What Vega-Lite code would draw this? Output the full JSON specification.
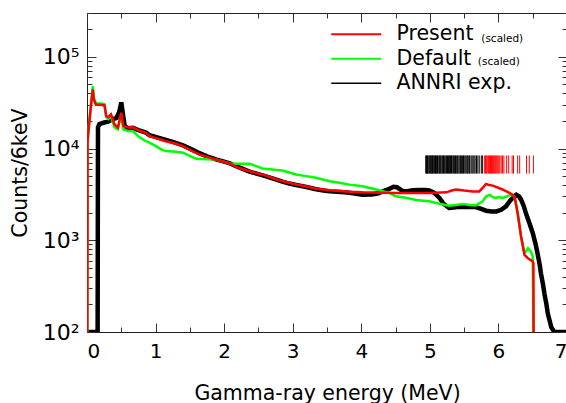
{
  "$schema": "https://vega.github.io/schema/vega-lite/v6.json",
  "width": 480,
  "height": 319,
  "autosize": "none",
  "padding": {"left": 87, "top": 13, "right": 0, "bottom": 71},
  "config": {
    "font": "DejaVu Sans",
    "view": {"stroke": "#222222", "strokeWidth": 1},
    "axis": {
      "domain": false,
      "grid": false,
      "tickColor": "#333333",
      "tickWidth": 1,
      "labelColor": "#000000",
      "labelFont": "DejaVu Sans",
      "labelFontSize": 20,
      "titleColor": "#000000",
      "titleFont": "DejaVu Sans",
      "titleFontSize": 20.5,
      "titleFontWeight": "normal"
    },
    "legend": {"labelFont": "DejaVu Sans"}
  },
  "datasets": {
    "annri": [
      {"E": 0, "N": 100}, {"E": 0.155, "N": 100}, {"E": 0.16, "N": 17000}, {"E": 0.18, "N": 18500},
      {"E": 0.25, "N": 19200}, {"E": 0.31, "N": 19600}, {"E": 0.37, "N": 20800}, {"E": 0.43, "N": 21500},
      {"E": 0.47, "N": 25000}, {"E": 0.5, "N": 31800}, {"E": 0.53, "N": 22000}, {"E": 0.55, "N": 17600},
      {"E": 0.6, "N": 16600}, {"E": 0.67, "N": 16800}, {"E": 0.75, "N": 15900}, {"E": 0.86, "N": 14900},
      {"E": 0.91, "N": 14000}, {"E": 1.0, "N": 13400}, {"E": 1.15, "N": 12400}, {"E": 1.25, "N": 11800},
      {"E": 1.4, "N": 10800}, {"E": 1.55, "N": 9600}, {"E": 1.64, "N": 8900}, {"E": 1.75, "N": 8200},
      {"E": 1.88, "N": 7600}, {"E": 2.0, "N": 7200}, {"E": 2.08, "N": 6900}, {"E": 2.2, "N": 6300},
      {"E": 2.37, "N": 5600}, {"E": 2.5, "N": 5250}, {"E": 2.6, "N": 5000}, {"E": 2.75, "N": 4600},
      {"E": 2.85, "N": 4350}, {"E": 2.95, "N": 4150}, {"E": 3.05, "N": 4000}, {"E": 3.2, "N": 3800},
      {"E": 3.34, "N": 3600}, {"E": 3.45, "N": 3480}, {"E": 3.54, "N": 3410}, {"E": 3.7, "N": 3350},
      {"E": 3.83, "N": 3300}, {"E": 3.95, "N": 3200}, {"E": 4.02, "N": 3140}, {"E": 4.15, "N": 3150},
      {"E": 4.25, "N": 3250}, {"E": 4.35, "N": 3500}, {"E": 4.41, "N": 3630}, {"E": 4.47, "N": 3820},
      {"E": 4.52, "N": 3780}, {"E": 4.6, "N": 3450}, {"E": 4.65, "N": 3410}, {"E": 4.75, "N": 3500},
      {"E": 4.85, "N": 3520}, {"E": 4.93, "N": 3530}, {"E": 4.99, "N": 3500}, {"E": 5.06, "N": 3300},
      {"E": 5.14, "N": 2890}, {"E": 5.2, "N": 2500}, {"E": 5.28, "N": 2250}, {"E": 5.35, "N": 2270},
      {"E": 5.42, "N": 2320}, {"E": 5.48, "N": 2300}, {"E": 5.58, "N": 2300}, {"E": 5.67, "N": 2300},
      {"E": 5.75, "N": 2200}, {"E": 5.82, "N": 2100}, {"E": 5.9, "N": 2060}, {"E": 5.97, "N": 2060},
      {"E": 6.04, "N": 2150}, {"E": 6.11, "N": 2340}, {"E": 6.17, "N": 2700}, {"E": 6.23, "N": 3010},
      {"E": 6.26, "N": 3140}, {"E": 6.3, "N": 3000}, {"E": 6.33, "N": 2770}, {"E": 6.37, "N": 2350},
      {"E": 6.4, "N": 1980}, {"E": 6.45, "N": 1550}, {"E": 6.5, "N": 1200}, {"E": 6.54, "N": 920},
      {"E": 6.57, "N": 722}, {"E": 6.6, "N": 550}, {"E": 6.62, "N": 436}, {"E": 6.65, "N": 330},
      {"E": 6.67, "N": 264}, {"E": 6.7, "N": 200}, {"E": 6.72, "N": 159}, {"E": 6.75, "N": 130},
      {"E": 6.77, "N": 113}, {"E": 6.815, "N": 100}, {"E": 7.0, "N": 100}
    ],
    "present": [
      {"E": 0.005, "N": 100}, {"E": 0.008, "N": 12000}, {"E": 0.03, "N": 18000}, {"E": 0.06, "N": 30000},
      {"E": 0.085, "N": 44000}, {"E": 0.1, "N": 34000}, {"E": 0.13, "N": 30000}, {"E": 0.2, "N": 30000},
      {"E": 0.255, "N": 29500}, {"E": 0.28, "N": 22600}, {"E": 0.31, "N": 22000}, {"E": 0.35, "N": 23600},
      {"E": 0.4, "N": 18400}, {"E": 0.45, "N": 16900}, {"E": 0.5, "N": 24500}, {"E": 0.53, "N": 17600},
      {"E": 0.6, "N": 16900}, {"E": 0.67, "N": 17000}, {"E": 0.75, "N": 15800}, {"E": 0.86, "N": 14800},
      {"E": 0.91, "N": 13700}, {"E": 1.0, "N": 13000}, {"E": 1.15, "N": 12000}, {"E": 1.28, "N": 11400},
      {"E": 1.4, "N": 10600}, {"E": 1.52, "N": 9500}, {"E": 1.64, "N": 8600}, {"E": 1.75, "N": 8100},
      {"E": 1.88, "N": 7600}, {"E": 2.08, "N": 6870}, {"E": 2.2, "N": 6200}, {"E": 2.37, "N": 5650},
      {"E": 2.6, "N": 5100}, {"E": 2.75, "N": 4650}, {"E": 2.85, "N": 4390}, {"E": 3.05, "N": 4050},
      {"E": 3.2, "N": 3850}, {"E": 3.34, "N": 3650}, {"E": 3.54, "N": 3500}, {"E": 3.83, "N": 3380},
      {"E": 4.02, "N": 3330}, {"E": 4.3, "N": 3300}, {"E": 4.5, "N": 3280}, {"E": 4.8, "N": 3280},
      {"E": 5.0, "N": 3280}, {"E": 5.24, "N": 3330}, {"E": 5.32, "N": 3480}, {"E": 5.38, "N": 3570},
      {"E": 5.5, "N": 3480}, {"E": 5.62, "N": 3410}, {"E": 5.72, "N": 3410}, {"E": 5.78, "N": 3800},
      {"E": 5.82, "N": 4110}, {"E": 5.86, "N": 4000}, {"E": 5.92, "N": 3940}, {"E": 6.05, "N": 3600},
      {"E": 6.16, "N": 3280}, {"E": 6.21, "N": 3120}, {"E": 6.24, "N": 2900}, {"E": 6.28, "N": 1980},
      {"E": 6.33, "N": 1100}, {"E": 6.38, "N": 692}, {"E": 6.43, "N": 637}, {"E": 6.47, "N": 610},
      {"E": 6.5, "N": 585}, {"E": 6.51, "N": 560}, {"E": 6.513, "N": 100}
    ],
    "default": [
      {"E": 0.005, "N": 100}, {"E": 0.008, "N": 12000}, {"E": 0.03, "N": 19000}, {"E": 0.06, "N": 32000},
      {"E": 0.085, "N": 48000}, {"E": 0.1, "N": 36000}, {"E": 0.13, "N": 31000}, {"E": 0.2, "N": 31000},
      {"E": 0.255, "N": 30500}, {"E": 0.28, "N": 22000}, {"E": 0.31, "N": 21000}, {"E": 0.35, "N": 22600},
      {"E": 0.4, "N": 17000}, {"E": 0.45, "N": 16200}, {"E": 0.5, "N": 23000}, {"E": 0.53, "N": 16200},
      {"E": 0.6, "N": 15500}, {"E": 0.67, "N": 15500}, {"E": 0.75, "N": 13500}, {"E": 0.86, "N": 12000},
      {"E": 0.91, "N": 11600}, {"E": 1.0, "N": 10700}, {"E": 1.1, "N": 9600}, {"E": 1.16, "N": 9370},
      {"E": 1.3, "N": 9200}, {"E": 1.4, "N": 9000}, {"E": 1.5, "N": 8300}, {"E": 1.59, "N": 7730},
      {"E": 1.75, "N": 7650}, {"E": 1.88, "N": 7600}, {"E": 2.08, "N": 6870}, {"E": 2.2, "N": 6820},
      {"E": 2.37, "N": 6810}, {"E": 2.45, "N": 6500}, {"E": 2.56, "N": 6050}, {"E": 2.7, "N": 5900},
      {"E": 2.85, "N": 5750}, {"E": 3.05, "N": 5200}, {"E": 3.2, "N": 5000}, {"E": 3.34, "N": 4790},
      {"E": 3.54, "N": 4390}, {"E": 3.7, "N": 4200}, {"E": 3.83, "N": 4040}, {"E": 4.02, "N": 3880},
      {"E": 4.2, "N": 3600}, {"E": 4.41, "N": 3280}, {"E": 4.5, "N": 3010}, {"E": 4.65, "N": 2900},
      {"E": 4.8, "N": 2750}, {"E": 4.99, "N": 2660}, {"E": 5.14, "N": 2500}, {"E": 5.28, "N": 2380},
      {"E": 5.38, "N": 2420}, {"E": 5.48, "N": 2490}, {"E": 5.58, "N": 2420}, {"E": 5.67, "N": 2400},
      {"E": 5.77, "N": 2660}, {"E": 5.82, "N": 3000}, {"E": 5.87, "N": 3140}, {"E": 5.92, "N": 2950},
      {"E": 5.96, "N": 2890}, {"E": 6.01, "N": 2950}, {"E": 6.06, "N": 2890}, {"E": 6.12, "N": 3000},
      {"E": 6.18, "N": 3140}, {"E": 6.23, "N": 3010}, {"E": 6.28, "N": 1980}, {"E": 6.33, "N": 1100},
      {"E": 6.38, "N": 720}, {"E": 6.43, "N": 819}, {"E": 6.475, "N": 752}, {"E": 6.5, "N": 663},
      {"E": 6.51, "N": 100}
    ],
    "levelsExp": [
      {"E": 4.94}, {"E": 4.952}, {"E": 4.96}, {"E": 4.968}, {"E": 4.975}, {"E": 4.99}, {"E": 5.0},
      {"E": 5.012}, {"E": 5.02}, {"E": 5.031}, {"E": 5.04}, {"E": 5.048}, {"E": 5.06}, {"E": 5.07},
      {"E": 5.083}, {"E": 5.09}, {"E": 5.1}, {"E": 5.112}, {"E": 5.12}, {"E": 5.135}, {"E": 5.145},
      {"E": 5.152}, {"E": 5.165}, {"E": 5.18}, {"E": 5.19}, {"E": 5.2}, {"E": 5.21}, {"E": 5.222},
      {"E": 5.235}, {"E": 5.245}, {"E": 5.258}, {"E": 5.27}, {"E": 5.28}, {"E": 5.29}, {"E": 5.3},
      {"E": 5.315}, {"E": 5.325}, {"E": 5.34}, {"E": 5.35}, {"E": 5.362}, {"E": 5.375}, {"E": 5.385},
      {"E": 5.4}, {"E": 5.41}, {"E": 5.425}, {"E": 5.44}, {"E": 5.45}, {"E": 5.46}, {"E": 5.478},
      {"E": 5.49}, {"E": 5.5}, {"E": 5.515}, {"E": 5.53}, {"E": 5.545}, {"E": 5.555}, {"E": 5.57},
      {"E": 5.58}, {"E": 5.6}, {"E": 5.615}, {"E": 5.63}, {"E": 5.645}, {"E": 5.66}, {"E": 5.68},
      {"E": 5.7}, {"E": 5.72}, {"E": 5.75}, {"E": 5.77}
    ],
    "levelsOther": [
      {"E": 5.8}, {"E": 5.81}, {"E": 5.823}, {"E": 5.835}, {"E": 5.85}, {"E": 5.86}, {"E": 5.872},
      {"E": 5.885}, {"E": 5.9}, {"E": 5.915}, {"E": 5.93}, {"E": 5.945}, {"E": 5.96}, {"E": 5.975},
      {"E": 5.99}, {"E": 6.005}, {"E": 6.02}, {"E": 6.04}, {"E": 6.06}, {"E": 6.08}, {"E": 6.12},
      {"E": 6.15}, {"E": 6.2}, {"E": 6.22}, {"E": 6.28}, {"E": 6.31}, {"E": 6.41}, {"E": 6.45}, {"E": 6.51}
    ]
  },
  "layer": [
    {
      "data": {"name": "annri"},
      "mark": {"type": "line", "strokeWidth": 4.5, "clip": true, "interpolate": "linear"},
      "encoding": {
        "x": {
          "field": "E", "type": "quantitative",
          "scale": {"domain": [0, 7], "nice": false, "zero": false},
          "axis": {
            "orient": "bottom",
            "values": [0, 0.5, 1, 1.5, 2, 2.5, 3, 3.5, 4, 4.5, 5, 5.5, 6, 6.5, 7],
            "labelExpr": "datum.value % 1 === 0 ? format(datum.value, 'd') : ''",
            "tickSize": {"condition": {"test": "datum.value % 1 === 0", "value": -9}, "value": -5},
            "labelPadding": 18,
            "title": "Gamma-ray energy (MeV)",
            "titlePadding": 22,
            "encode": {"labels": {"update": {"dy": {"value": 4}}}}
          }
        },
        "y": {
          "field": "N", "type": "quantitative",
          "scale": {"type": "log", "domain": [100, 300000], "nice": false},
          "axis": {
            "orient": "left",
            "values": [100, 200, 300, 400, 500, 600, 700, 800, 900, 1000, 2000, 3000, 4000, 5000, 6000, 7000, 8000, 9000, 10000, 20000, 30000, 40000, 50000, 60000, 70000, 80000, 90000, 100000, 200000, 300000],
            "labelExpr": "datum.value == 100 ? '10²' : datum.value == 1000 ? '10³' : datum.value == 10000 ? '10⁴' : datum.value == 100000 ? '10⁵' : ''",
            "labelFontSize": 22,
            "tickSize": {"condition": {"test": "indexof([100, 1000, 10000, 100000], datum.value) >= 0", "value": -9}, "value": -5},
            "labelPadding": 17,
            "title": "Counts/6keV",
            "titlePadding": 12
          }
        },
        "color": {
          "datum": "ANNRI exp.", "type": "nominal",
          "scale": {"domain": ["Present", "Default", "ANNRI exp."], "range": ["#ff0000", "#00ff00", "#000000"]},
          "legend": {
            "orient": "none",
            "legendX": 259,
            "legendY": 11,
            "title": null,
            "padding": 0,
            "symbolType": "M-2.5,0H2.5",
            "symbolSize": 400,
            "symbolStrokeWidth": 2,
            "labelFontSize": 20.5,
            "labelColor": "#000000",
            "labelOffset": 30,
            "rowPadding": 3.5,
            "encode": {
              "symbols": {
                "update": {
                  "stroke": {"signal": "datum.value === 'ANNRI exp.' ? '#777777' : datum.value === 'Present' ? '#ff0000' : '#00ff00'"},
                  "strokeWidth": {"signal": "datum.value === 'ANNRI exp.' ? 1.5 : 2"}
                }
              }
            }
          }
        }
      }
    },
    {
      "data": {"name": "default"},
      "mark": {"type": "line", "strokeWidth": 2.5, "clip": true},
      "encoding": {
        "x": {
          "field": "E", "type": "quantitative",
          "axis": {
            "orient": "top",
            "values": [0, 0.5, 1, 1.5, 2, 2.5, 3, 3.5, 4, 4.5, 5, 5.5, 6, 6.5, 7],
            "labels": false,
            "tickSize": {"condition": {"test": "datum.value % 1 === 0", "value": -9}, "value": -5},
            "title": null
          }
        },
        "y": {
          "field": "N", "type": "quantitative",
          "axis": {
            "orient": "right",
            "values": [100, 200, 300, 400, 500, 600, 700, 800, 900, 1000, 2000, 3000, 4000, 5000, 6000, 7000, 8000, 9000, 10000, 20000, 30000, 40000, 50000, 60000, 70000, 80000, 90000, 100000, 200000, 300000],
            "labels": false,
            "tickSize": {"condition": {"test": "indexof([100, 1000, 10000, 100000], datum.value) >= 0", "value": -9}, "value": -5},
            "title": null
          }
        },
        "color": {"datum": "Default", "type": "nominal"}
      }
    },
    {
      "data": {"name": "present"},
      "mark": {"type": "line", "strokeWidth": 2.5, "clip": true},
      "encoding": {
        "x": {"field": "E", "type": "quantitative", "axis": null},
        "y": {"field": "N", "type": "quantitative", "axis": null},
        "color": {"datum": "Present", "type": "nominal"}
      }
    },
    {
      "data": {"name": "levelsExp"},
      "mark": {"type": "rule", "color": "#000000", "strokeWidth": 1},
      "encoding": {
        "x": {"field": "E", "type": "quantitative", "axis": null},
        "y": {"datum": 5330, "type": "quantitative", "axis": null},
        "y2": {"datum": 8400}
      }
    },
    {
      "data": {"name": "levelsOther"},
      "mark": {"type": "rule", "color": "#ff0000", "strokeWidth": 1},
      "encoding": {
        "x": {"field": "E", "type": "quantitative", "axis": null},
        "y": {"datum": 5330, "type": "quantitative", "axis": null},
        "y2": {"datum": 8400}
      }
    },
    {
      "data": {"values": [{"label": "(scaled)"}]},
      "mark": {"type": "text", "fontSize": 10.5, "align": "left", "baseline": "alphabetic", "color": "#000000"},
      "encoding": {
        "x": {"datum": 5.75, "type": "quantitative", "axis": null},
        "y": {"datum": 144000, "type": "quantitative", "axis": null},
        "text": {"field": "label"}
      }
    },
    {
      "data": {"values": [{"label": "(scaled)"}]},
      "mark": {"type": "text", "fontSize": 10.5, "align": "left", "baseline": "alphabetic", "color": "#000000"},
      "encoding": {
        "x": {"datum": 5.7, "type": "quantitative", "axis": null},
        "y": {"datum": 81300, "type": "quantitative", "axis": null},
        "text": {"field": "label"}
      }
    }
  ],
  "resolve": {"axis": {"x": "independent", "y": "independent"}}
}
